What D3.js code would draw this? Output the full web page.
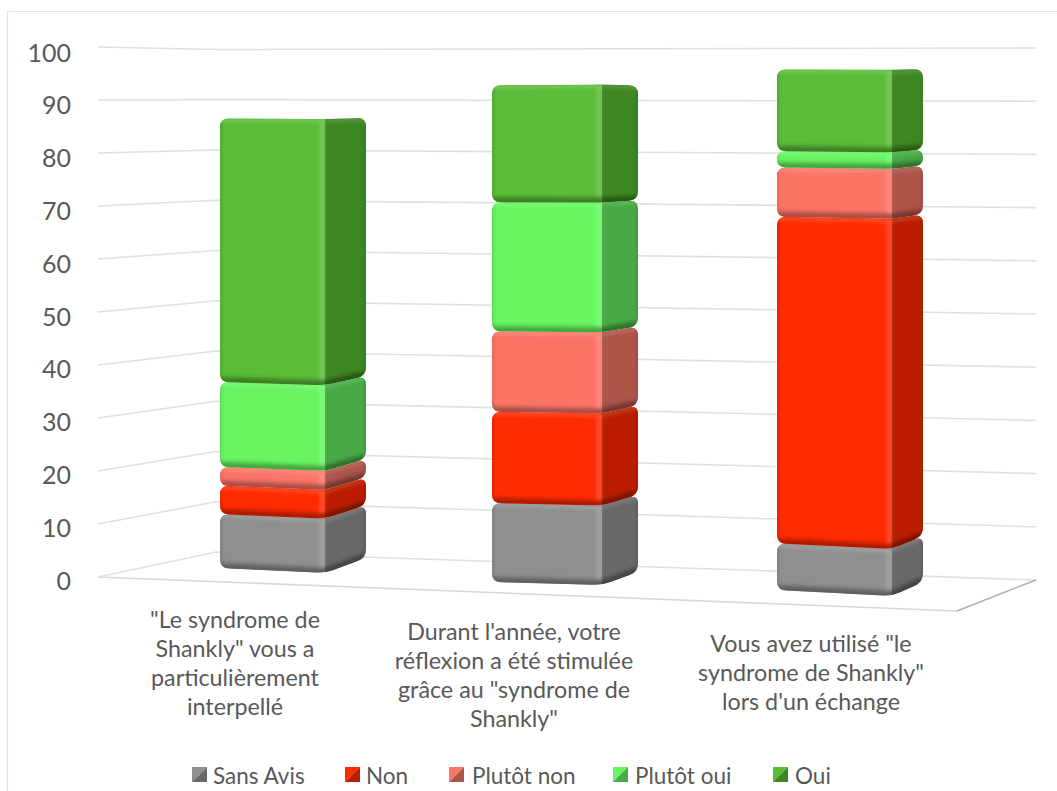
<!DOCTYPE html>
<html>
<head>
<meta charset="utf-8">
<script src="https://cdn.jsdelivr.net/npm/d3@7"></script>
<style>
html,body{margin:0;padding:0;background:#fff;overflow:hidden}
svg{display:block}
text{font-family:Lato,"Open Sans",sans-serif;fill:#595959}
</style>
</head>
<body>
<svg id="chart" width="1057" height="791"></svg>
<script>
// ---------- data ----------
const categories = ["q1", "q2", "q3"];
const categoryLines = [
  ['"Le syndrome de', 'Shankly" vous a', 'particulièrement', 'interpellé'],
  ["Durant l'année, votre", 'réflexion a été stimulée', 'grâce au "syndrome de', 'Shankly"'],
  ['Vous avez utilisé "le', 'syndrome de Shankly"', "lors d'un échange"]
];
const seriesNames = ["Sans Avis", "Non", "Plutôt non", "Plutôt oui", "Oui"];
const sansAvis  = [10.3, 14.7, 8.5];
const non       = [5.4, 17, 59.6];
const plutotNon = [3.6, 15, 9];
const plutotOui = [16.2, 24, 3];
const oui       = [50.3, 21.8, 14.9];
const tickValues = [0, 10, 20, 30, 40, 50, 60, 70, 80, 90, 100];

// ---------- styling / layout ----------
const frontColors = ["#8f8f8f", "#ff2a00", "#fb7466", "#67f561", "#5abc37"];
const sideColors  = ["#686868", "#bb1f00", "#ad5449", "#47aa44", "#3e8722"];
const xLeft   = d3.scaleOrdinal(categories, [220, 492, 777]);
const xCorner = d3.scaleOrdinal(categories, [325, 602, 892]);
const xRight  = d3.scaleOrdinal(categories, [366, 638, 923]);
// value -> screen y, one scale per vertical edge of each column
const edge = (b, t) => d3.scaleLinear().domain([0, 100]).range([b, t]);
const yLeftEdge   = d3.scaleOrdinal(categories, [edge(568, 44), edge(582, 45), edge(590, 42)]);
const yCornerEdge = d3.scaleOrdinal(categories, [edge(573, 44), edge(585, 44), edge(596, 42)]);
const yRightEdge  = d3.scaleOrdinal(categories, [edge(558, 45), edge(572, 46), edge(582, 42)]);
// chart walls
const wallX = [98, 216, 1036];
const wallLeft = edge(577, 47), wallCorner = edge(552, 49.5), wallRight = edge(580, 48);
const axisScale = edge(580, 52);

const svg = d3.select("#chart");
const defs = svg.append("defs");
const blur = (id, s) => defs.append("filter").attr("id", id)
  .attr("filterUnits", "userSpaceOnUse").attr("x", 0).attr("y", 0).attr("width", 1057).attr("height", 791)
  .append("feGaussianBlur").attr("stdDeviation", s);
blur("b1", 1.6); blur("b2", 2.2); blur("b0", 0.5);

// frame
svg.append("path").attr("d", "M7.5,791 V11.5 H1057").attr("fill", "none").attr("stroke", "#e2e2e2").attr("stroke-width", 1.2);

// gridlines
const gridLine = d3.line();
svg.append("g").attr("class", "grid").selectAll("path").data(tickValues).join("path")
  .attr("d", v => gridLine([[wallX[0], wallLeft(v)], [wallX[1], wallCorner(v)], [wallX[2], wallRight(v)]]))
  .attr("fill", "none").attr("stroke", "#e0e0e0").attr("stroke-width", 1.6);
// floor edges
svg.append("path").attr("d", gridLine([[98, 577], [957, 611]])).attr("fill", "none").attr("stroke", "#d9d9d9").attr("stroke-width", 1.6);
svg.append("path").attr("d", gridLine([[957, 611], [1036, 580]])).attr("fill", "none").attr("stroke", "#adadad").attr("stroke-width", 1.4);

// value axis
const axis = d3.axisLeft(axisScale).tickValues(tickValues).tickSize(0).tickPadding(0);
const gAxis = svg.append("g").attr("transform", "translate(71,0)").call(axis);
gAxis.select(".domain").remove();
gAxis.selectAll("text").style("font-size", "25px").attr("fill", null).attr("dy", "0.36em");

// rounded polygon
function rounded(pts, r) {
  const p = d3.path(), n = pts.length;
  pts.forEach((c, i) => {
    const a = pts[(i - 1 + n) % n], b = pts[(i + 1) % n];
    const da = Math.hypot(a[0] - c[0], a[1] - c[1]), db = Math.hypot(b[0] - c[0], b[1] - c[1]);
    const ra = Math.min(r, da / 2), rb = Math.min(r, db / 2);
    const s = [c[0] + (a[0] - c[0]) * ra / da, c[1] + (a[1] - c[1]) * ra / da];
    const e = [c[0] + (b[0] - c[0]) * rb / db, c[1] + (b[1] - c[1]) * rb / db];
    if (i === 0) p.moveTo(s[0], s[1]); else p.lineTo(s[0], s[1]);
    p.quadraticCurveTo(c[0], c[1], e[0], e[1]);
  });
  p.closePath();
  return p.toString();
}

// stacked blocks
const rows = categories.map((c, i) => ({
  category: c, "Sans Avis": sansAvis[i], "Non": non[i], "Plutôt non": plutotNon[i], "Plutôt oui": plutotOui[i], "Oui": oui[i]
}));
const stacked = d3.stack().keys(seriesNames)(rows);

const blocks = [];
stacked.forEach((layer, si) => layer.forEach(d => {
  blocks.push({ si, cat: d.data.category, y0: d[0], y1: d[1] });
}));

const gBars = svg.append("g").attr("class", "bars").attr("filter", "url(#b0)");
blocks.forEach((b, i) => {
  const xl = xLeft(b.cat), xc = xCorner(b.cat), xr = xRight(b.cat);
  const L = yLeftEdge(b.cat), C = yCornerEdge(b.cat), R = yRightEdge(b.cat);
  const tl = [xl, L(b.y1)], tc = [xc, C(b.y1)], tr = [xr, R(b.y1)];
  const bl = [xl, L(b.y0)], bc = [xc, C(b.y0)], br = [xr, R(b.y0)];
  const outline = [tl, tc, tr, br, bc, bl];
  const id = "clip" + i;
  const path = rounded(outline, 9);
  defs.append("clipPath").attr("id", id).append("path").attr("d", path);
  gBars.append("path").attr("d", path).attr("fill", frontColors[b.si]);
  const g = gBars.append("g").attr("clip-path", `url(#${id})`);
  const front = frontColors[b.si], side = sideColors[b.si];
  const poly = pts => "M" + pts.map(p => p.join(",")).join("L") + "Z";
  g.append("path").attr("d", poly([tl, tc, bc, bl])).attr("fill", front);
  g.append("path").attr("d", poly([tc, [xr + 2, tr[1]], [xr + 2, br[1]], bc])).attr("fill", side);

  const stroke = (pts, color, w, op, f) => g.append("path").attr("d", gridLine(pts)).attr("fill", "none")
    .attr("stroke", color).attr("stroke-width", w).attr("stroke-opacity", op).attr("filter", `url(#${f})`);
  // left edge shading
  stroke([[xl, tl[1]], [xl, bl[1]]], "#000", 4, 0.10, "b1");
  // right edge shading
  stroke([[xr, tr[1]], [xr, br[1]]], "#000", 4, 0.08, "b1");
  // top bevel
  stroke([[xl, tl[1] + 2], [xc, tc[1] + 2]], "#fff", 4, 0.14, "b1");
  stroke([[xc, tc[1] + 2], [xr, tr[1] + 2]], "#fff", 4, 0.12, "b1");
  // bottom bevel
  stroke([[xl, bl[1] - 1], [xc, bc[1] - 1]], "#000", 8, 0.34, "b2");
  stroke([[xc, bc[1] - 1], [xr, br[1] - 1]], "#000", 8, 0.36, "b2");
  // light vertical bevel beside the corner
  stroke([[xc - 3, tc[1] + 3], [xc - 3, bc[1] - 5]], "#fff", 6, 0.15, "b1");
});

// category labels
const labelX = d3.scaleOrdinal(categories, [235, 514, 811]);
const labelY = d3.scaleOrdinal(categories, [620, 632, 644]);
const gLabels = svg.append("g").attr("class", "category-labels");
categories.forEach((c, i) => {
  const t = gLabels.append("text").attr("text-anchor", "middle").style("font-size", "23.3px");
  categoryLines[i].forEach((line, k) => {
    t.append("tspan").attr("x", labelX(c)).attr("y", labelY(c) + 8 + k * 29).text(line);
  });
});

// legend
const legendSwatchX = d3.scaleOrdinal(seriesNames, [192, 345, 449, 613, 773]);
const legendTextX = d3.scaleOrdinal(seriesNames, [213, 366, 472, 635, 795]);
const gLegend = svg.append("g").attr("class", "legend");
seriesNames.forEach((name, i) => {
  const x = legendSwatchX(name), y = 767, s = 15;
  gLegend.append("path").attr("d", `M${x},${y}H${x + s}L${x},${y + s}Z`).attr("fill", frontColors[i]);
  gLegend.append("path").attr("d", `M${x + s},${y}V${y + s}H${x}Z`).attr("fill", sideColors[i]);
  gLegend.append("text").attr("x", legendTextX(name)).attr("y", 784).style("font-size", "22.5px").text(name);
});
</script>
</body>
</html>
